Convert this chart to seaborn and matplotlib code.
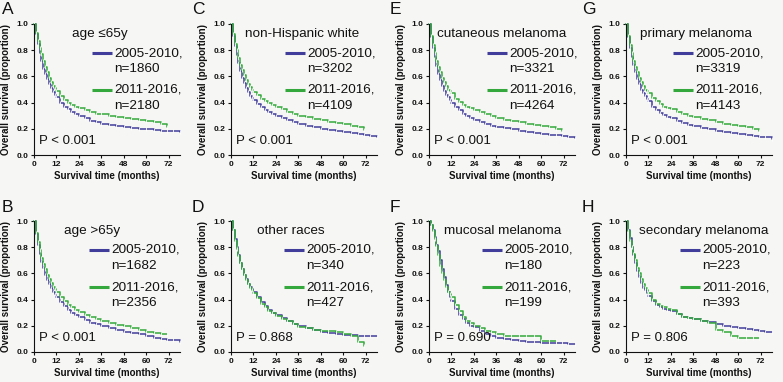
import numpy as np
import pandas as pd
import seaborn as sns
import matplotlib.pyplot as plt

sns.set_theme(style="ticks")
plt.rcParams["font.family"] = ["Liberation Sans", "DejaVu Sans"]

# ── Data: Kaplan-Meier estimates ────────────────────────────
months = [0, 1, 2, 3, 4, 5, 6, 7, 8, 9, 10, 11, 12, 14, 16, 18, 20, 22, 24,
          27, 30, 33, 36, 40, 44, 48, 52, 56, 60, 64, 68, 71, 74, 78]

panel_letters = ["A", "B", "C", "D", "E", "F", "G", "H"]
panel_titles = ["age \u226465y", "age >65y", "non-Hispanic white", "other races",
                "cutaneous melanoma", "mucosal melanoma", "primary melanoma",
                "secondary melanoma"]
n_early = [1860, 1682, 3202, 340, 3321, 180, 3319, 223]
n_late = [2180, 2356, 4109, 427, 4264, 199, 4143, 393]
p_labels = ["P < 0.001", "P < 0.001", "P < 0.001", "P = 0.868",
            "P < 0.001", "P = 0.690", "P < 0.001", "P = 0.806"]

surv_early = {
    "A": [1.0, 0.92, 0.85, 0.78, 0.72, 0.66, 0.62, 0.58, 0.54, 0.51, 0.48, 0.46, 0.44, 0.40,
          0.37, 0.35, 0.33, 0.31, 0.30, 0.28, 0.26, 0.25, 0.24, 0.23, 0.22, 0.21, 0.205, 0.20,
          0.195, 0.19, 0.185, 0.18, 0.18, 0.175],
    "B": [1.0, 0.90, 0.82, 0.75, 0.69, 0.64, 0.59, 0.55, 0.52, 0.49, 0.46, 0.44, 0.42, 0.38,
          0.35, 0.32, 0.30, 0.28, 0.265, 0.245, 0.225, 0.21, 0.195, 0.18, 0.165, 0.155, 0.145,
          0.135, 0.12, 0.11, 0.10, 0.095, 0.09, 0.08],
    "C": [1.0, 0.91, 0.83, 0.76, 0.70, 0.64, 0.59, 0.55, 0.51, 0.48, 0.45, 0.435, 0.42, 0.39,
          0.365, 0.345, 0.325, 0.31, 0.30, 0.28, 0.265, 0.25, 0.24, 0.225, 0.21, 0.20, 0.19,
          0.18, 0.175, 0.165, 0.16, 0.155, 0.145, 0.135],
    "D": [1.0, 0.93, 0.86, 0.80, 0.74, 0.68, 0.63, 0.59, 0.56, 0.52, 0.50, 0.48, 0.46, 0.42,
          0.38, 0.35, 0.32, 0.30, 0.28, 0.26, 0.24, 0.215, 0.195, 0.18, 0.165, 0.155, 0.145,
          0.14, 0.13, 0.13, 0.125, 0.125, 0.125, 0.12],
    "E": [1.0, 0.90, 0.82, 0.75, 0.68, 0.62, 0.57, 0.53, 0.49, 0.46, 0.44, 0.42, 0.40, 0.365,
          0.34, 0.315, 0.30, 0.285, 0.27, 0.255, 0.24, 0.225, 0.215, 0.205, 0.195, 0.185,
          0.175, 0.165, 0.16, 0.155, 0.15, 0.145, 0.14, 0.13],
    "F": [1.0, 0.97, 0.93, 0.88, 0.82, 0.77, 0.70, 0.63, 0.57, 0.51, 0.46, 0.42, 0.39, 0.33,
          0.28, 0.25, 0.22, 0.20, 0.19, 0.16, 0.14, 0.12, 0.11, 0.10, 0.09, 0.085, 0.08, 0.075,
          0.07, 0.07, 0.065, 0.065, 0.06, 0.06],
    "G": [1.0, 0.90, 0.82, 0.75, 0.69, 0.63, 0.58, 0.54, 0.50, 0.47, 0.45, 0.43, 0.41, 0.37,
          0.345, 0.32, 0.305, 0.29, 0.28, 0.26, 0.245, 0.23, 0.22, 0.205, 0.195, 0.185, 0.175,
          0.165, 0.16, 0.15, 0.145, 0.14, 0.135, 0.125],
    "H": [1.0, 0.93, 0.87, 0.80, 0.74, 0.68, 0.62, 0.57, 0.53, 0.49, 0.47, 0.45, 0.43, 0.39,
          0.36, 0.34, 0.33, 0.32, 0.31, 0.29, 0.27, 0.26, 0.25, 0.24, 0.23, 0.21, 0.20, 0.19,
          0.18, 0.175, 0.17, 0.16, 0.155, 0.15],
}

surv_late = {
    "A": [1.0, 0.93, 0.87, 0.82, 0.77, 0.72, 0.67, 0.63, 0.59, 0.56, 0.53, 0.51, 0.49, 0.45,
          0.42, 0.40, 0.38, 0.37, 0.36, 0.34, 0.325, 0.315, 0.31, 0.30, 0.29, 0.285, 0.275,
          0.265, 0.26, 0.255, 0.24, 0.21],
    "B": [1.0, 0.91, 0.84, 0.78, 0.72, 0.67, 0.63, 0.59, 0.56, 0.53, 0.50, 0.48, 0.46, 0.42,
          0.39, 0.36, 0.34, 0.32, 0.305, 0.285, 0.265, 0.25, 0.235, 0.22, 0.205, 0.195, 0.18,
          0.17, 0.155, 0.145, 0.14, 0.14],
    "C": [1.0, 0.92, 0.85, 0.80, 0.74, 0.69, 0.65, 0.61, 0.57, 0.54, 0.52, 0.50, 0.48, 0.455,
          0.43, 0.41, 0.395, 0.38, 0.37, 0.35, 0.33, 0.315, 0.30, 0.29, 0.275, 0.265, 0.255,
          0.245, 0.235, 0.225, 0.21, 0.19],
    "D": [1.0, 0.93, 0.85, 0.79, 0.73, 0.68, 0.63, 0.59, 0.55, 0.52, 0.49, 0.47, 0.45, 0.41,
          0.37, 0.34, 0.315, 0.295, 0.275, 0.255, 0.235, 0.21, 0.19, 0.18, 0.17, 0.16, 0.16,
          0.155, 0.14, 0.12, 0.08, 0.045],
    "E": [1.0, 0.91, 0.84, 0.78, 0.72, 0.67, 0.63, 0.59, 0.56, 0.53, 0.50, 0.485, 0.47, 0.43,
          0.405, 0.385, 0.37, 0.355, 0.34, 0.325, 0.31, 0.295, 0.285, 0.27, 0.26, 0.25, 0.24,
          0.23, 0.22, 0.21, 0.20, 0.185],
    "F": [1.0, 0.97, 0.92, 0.86, 0.81, 0.74, 0.66, 0.60, 0.55, 0.50, 0.46, 0.44, 0.42, 0.36,
          0.31, 0.27, 0.24, 0.22, 0.20, 0.18, 0.16, 0.15, 0.14, 0.125, 0.12, 0.12, 0.12, 0.12,
          0.085, 0.085, 0.085],
    "G": [1.0, 0.91, 0.84, 0.78, 0.72, 0.67, 0.63, 0.59, 0.56, 0.53, 0.50, 0.485, 0.47, 0.435,
          0.41, 0.39, 0.37, 0.36, 0.35, 0.33, 0.315, 0.30, 0.29, 0.275, 0.265, 0.25, 0.24,
          0.23, 0.22, 0.21, 0.20, 0.18],
    "H": [1.0, 0.92, 0.85, 0.80, 0.75, 0.70, 0.64, 0.60, 0.56, 0.52, 0.49, 0.47, 0.45, 0.40,
          0.37, 0.35, 0.34, 0.33, 0.32, 0.29, 0.27, 0.26, 0.25, 0.235, 0.22, 0.17, 0.15, 0.12,
          0.11, 0.11, 0.11, 0.11],
}

# ── Layout (pixels of the 783x382 canvas) ───────────────────
W, H = 783, 382
BG = "#f6f6f4"
INK = "#111111"
BLUE = "#413d9b"
GREEN = "#34a83c"
col_left = [34, 231, 429, 626]
row_top = [24, 221]
ax_w, ax_h = 146, 131
letter_x = [2, 192, 390, 582]
letter_y = [10, 207]
title_dx = [38, 30, 14, 26, 8, 15, 14, 13]
line_dx = [58, 55, 54, 53, 58, 53, 47, 54]

fig = plt.figure(figsize=(W / 100, H / 100), dpi=100, facecolor=BG)

for i, key in enumerate(panel_letters):
    col, row = i // 2, i % 2
    left, top = col_left[col], row_top[row]
    ax = fig.add_axes([left / W, 1 - (top + ax_h) / H, ax_w / W, ax_h / H])
    ax.set_facecolor(BG)

    early = pd.DataFrame({"t": months[:len(surv_early[key])], "s": surv_early[key]})
    late = pd.DataFrame({"t": months[:len(surv_late[key])], "s": surv_late[key]})
    for df, c in [(early, BLUE), (late, GREEN)]:
        sns.lineplot(data=df, x="t", y="s", ax=ax, color=c, lw=1.1,
                     drawstyle="steps-post", marker="|", markersize=2.5,
                     markeredgewidth=0.6, clip_on=False)

    ax.set_xlim(0, 78)
    ax.set_ylim(0, 1.0)
    ax.set_xticks(range(0, 73, 12))
    ax.set_yticks(np.arange(0, 1.01, 0.2))
    ax.set_yticklabels([f"{v:.1f}" for v in np.arange(0, 1.01, 0.2)])
    ax.tick_params(length=2.5, width=0.8, pad=1.5, labelsize=6, colors=INK)
    for lab in ax.get_xticklabels() + ax.get_yticklabels():
        lab.set_fontweight("bold")
    sns.despine(ax=ax)
    for sp in ["left", "bottom"]:
        ax.spines[sp].set_linewidth(0.8)
        ax.spines[sp].set_color(INK)

    ax.set_xlabel("Survival time (months)", fontsize=7, fontweight="bold", color=INK)
    ax.set_ylabel("Overall survival (proportion)", fontsize=7, fontweight="bold", color=INK)
    ax.xaxis.set_label_coords(0.5, -16 / ax_h)
    ax.yaxis.set_label_coords(-23 / ax_w, 0.5)

    # title, legend, p-value
    def px(dx, dy):
        return dx / ax_w, 1 - dy / ax_h

    ax.text(*px(title_dx[i], 10), panel_titles[i], fontsize=9.7, va="center",
            color=INK, transform=ax.transAxes)
    for (dy, c, lab, n) in [(29, BLUE, "2005-2010,", n_early[i]),
                            (66, GREEN, "2011-2016,", n_late[i])]:
        x0, y0 = px(line_dx[i], dy)
        x1, _ = px(line_dx[i] + 20, dy)
        ax.plot([x0, x1], [y0, y0], color=c, lw=2.2, transform=ax.transAxes,
                clip_on=False, solid_capstyle="butt")
        ax.text(*px(line_dx[i] + 22, dy), lab, fontsize=9.7, va="center",
                color=INK, transform=ax.transAxes)
        ax.text(*px(line_dx[i] + 22, dy + 16), f"n={n}", fontsize=9.7, va="center",
                color=INK, transform=ax.transAxes)
    ax.text(*px(5, 117), p_labels[i], fontsize=9.5, va="center", color=INK,
            transform=ax.transAxes)

    fig.text(letter_x[col] / W, 1 - letter_y[row] / H, key, fontsize=12.5,
             va="center", ha="left", color=INK)

plt.savefig("out.png", dpi=100, facecolor=BG)
plt.close()
